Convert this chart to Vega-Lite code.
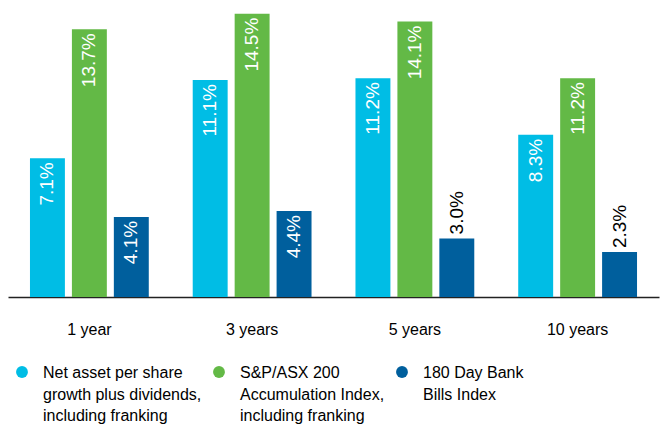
{
  "$schema": "https://vega.github.io/schema/vega-lite/v6.json",
  "width": 651,
  "height": 297,
  "autosize": {"type": "none"},
  "padding": {"left": 8, "top": 0, "right": 2, "bottom": 127},
  "background": "white",
  "config": {"view": {"stroke": null}},
  "data": {
    "values": [
      {"period": "1 year", "series": "NAV", "value": 0.071},
      {"period": "1 year", "series": "ASX", "value": 0.137},
      {"period": "1 year", "series": "BILLS", "value": 0.041},
      {"period": "3 years", "series": "NAV", "value": 0.111},
      {"period": "3 years", "series": "ASX", "value": 0.145},
      {"period": "3 years", "series": "BILLS", "value": 0.044},
      {"period": "5 years", "series": "NAV", "value": 0.112},
      {"period": "5 years", "series": "ASX", "value": 0.141},
      {"period": "5 years", "series": "BILLS", "value": 0.030},
      {"period": "10 years", "series": "NAV", "value": 0.083},
      {"period": "10 years", "series": "ASX", "value": 0.112},
      {"period": "10 years", "series": "BILLS", "value": 0.023}
    ]
  },
  "encoding": {
    "x": {
      "field": "period",
      "type": "nominal",
      "sort": ["1 year", "3 years", "5 years", "10 years"],
      "scale": {"paddingInner": 0.27, "paddingOuter": 0.135},
      "axis": {
        "title": null,
        "labelAngle": 0,
        "ticks": false,
        "grid": false,
        "domain": true,
        "domainColor": "#222222",
        "domainWidth": 1.5,
        "labelFont": "Liberation Sans",
        "labelFontSize": 16,
        "labelColor": "#000000",
        "labelPadding": 24
      }
    },
    "xOffset": {
      "field": "series",
      "type": "nominal",
      "sort": ["NAV", "ASX", "BILLS"],
      "scale": {"paddingInner": 0.167, "paddingOuter": 0}
    },
    "y": {
      "field": "value",
      "type": "quantitative",
      "scale": {"domain": [0, 0.152], "nice": false},
      "axis": null
    }
  },
  "layer": [
    {
      "mark": {"type": "bar"},
      "encoding": {
        "color": {
          "field": "series",
          "type": "nominal",
          "sort": ["NAV", "ASX", "BILLS"],
          "scale": {"domain": ["NAV", "ASX", "BILLS"], "range": ["#00BDE5", "#63B946", "#005F9D"]},
          "legend": {
            "title": null,
            "orient": "none",
            "legendX": 6,
            "legendY": 364,
            "direction": "horizontal",
            "columns": 3,
            "columnPadding": 9,
            "symbolType": "circle",
            "symbolSize": 140,
            "symbolStrokeWidth": 0,
            "labelOffset": 13,
            "labelFont": "Liberation Sans",
            "labelFontSize": 16,
            "labelColor": "#000000",
            "labelLimit": 400,
            "labelBaseline": "top",
            "labelExpr": "datum.label == 'NAV' ? ['Net asset per share', 'growth plus dividends,', 'including franking'] : datum.label == 'ASX' ? ['S&P/ASX 200', 'Accumulation Index,', 'including franking'] : ['180 Day Bank', 'Bills Index', ' ']",
            "encode": {
              "labels": {"update": {"lineHeight": {"value": 21.5}, "dy": {"value": -7}}}
            }
          }
        }
      }
    },
    {
      "transform": [{"filter": "datum.value >= 0.04"}],
      "mark": {"type": "text", "angle": 270, "align": "right", "baseline": "middle", "dx": -4, "color": "white", "font": "Liberation Sans", "fontSize": 19},
      "encoding": {"text": {"field": "value", "type": "quantitative", "format": ".1%"}}
    },
    {
      "transform": [{"filter": "datum.value < 0.04"}],
      "mark": {"type": "text", "angle": 270, "align": "left", "baseline": "middle", "dx": 4, "color": "black", "font": "Liberation Sans", "fontSize": 19},
      "encoding": {"text": {"field": "value", "type": "quantitative", "format": ".1%"}}
    }
  ]
}
